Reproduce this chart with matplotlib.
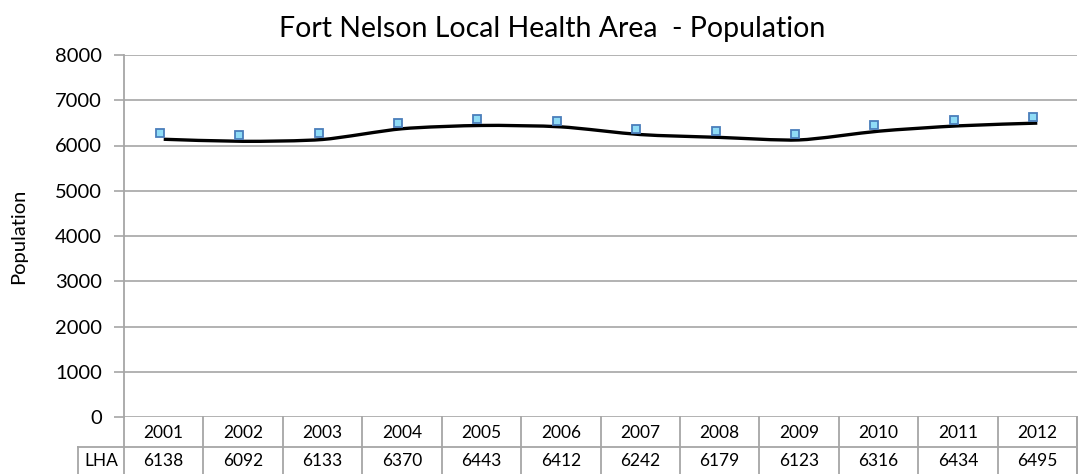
import matplotlib
matplotlib.use("Agg")
import matplotlib.pyplot as plt
import numpy as np
from matplotlib.path import Path
from matplotlib.patches import PathPatch
from matplotlib.transforms import offset_copy, blended_transform_factory
from matplotlib.lines import Line2D

years = ["2001", "2002", "2003", "2004", "2005", "2006",
         "2007", "2008", "2009", "2010", "2011", "2012"]
population = [6138, 6092, 6133, 6370, 6443, 6412,
              6242, 6179, 6123, 6316, 6434, 6495]
series_label = "LHA"
title = "Fort Nelson Local Health Area  - Population"
y_label = "Population"
y_ticks = [0, 1000, 2000, 3000, 4000, 5000, 6000, 7000, 8000]

plt.rcParams["font.family"] = ["Lato", "DejaVu Sans"]

W, H = 1086, 474
fig = plt.figure(figsize=(W / 100, H / 100), dpi=100)
left, right, top, bottom = 124, 1077, 55, 417
ax = fig.add_axes([left / W, 1 - bottom / H, (right - left) / W, (bottom - top) / H])

n = len(years)
x = np.arange(n)
ax.set_xlim(-0.5, n - 0.5)
ax.set_ylim(0, 8000)

grid_c = "#a6a6a6"
ax.set_yticks(y_ticks)
ax.set_yticklabels([str(v) for v in y_ticks], fontsize=14.5)
ax.tick_params(axis="y", length=7, width=1.2, color=grid_c, pad=9)
ax.set_xticks([])
for v in y_ticks:
    ax.axhline(v, color=grid_c, lw=1.2, zorder=1)
for s in ["top", "right", "bottom"]:
    ax.spines[s].set_visible(False)
ax.spines["left"].set_color(grid_c)
ax.spines["left"].set_linewidth(1.3)

# smoothed line through the values (Catmull-Rom as cubic Bezier segments)
pts = np.column_stack([x, population]).astype(float)
verts = [tuple(pts[0])]
codes = [Path.MOVETO]
for i in range(n - 1):
    p0 = pts[i - 1] if i > 0 else pts[i]
    p1, p2 = pts[i], pts[i + 1]
    p3 = pts[i + 2] if i + 2 < n else pts[i + 1]
    c1 = p1 + (p2 - p0) / 8.0
    c2 = p2 - (p3 - p1) / 8.0
    verts += [tuple(c1), tuple(c2), tuple(p2)]
    codes += [Path.CURVE4] * 3
ax.add_patch(PathPatch(Path(verts, codes), fill=False, edgecolor="black",
                       lw=2.4, capstyle="butt", zorder=3))

# markers drawn slightly up and to the left of the line
mk_tr = offset_copy(ax.transData, fig=fig, x=-4, y=6, units="dots")
ax.plot(x, population, ls="none", marker="s", ms=5.5, mfc="#8fdcf6",
        mec="#4a7ebb", mew=1.3, transform=mk_tr, zorder=4)

fig.text(552 / W, 1 - 29 / H, title, fontsize=20.5, ha="center", va="center")
fig.text(19 / W, 1 - 236 / H, y_label, rotation=90, fontsize=14.5,
         ha="center", va="center")

# data table below the plot
tr = blended_transform_factory(ax.transData, fig.transFigure)
def fy(py):
    return 1 - py / H
row1_top, row_mid, row2_bot = 417, 447, 476
line_kw = dict(color=grid_c, lw=1.3, clip_on=False)
for i in range(n + 1):
    xb = i - 0.5
    fig.add_artist(Line2D([xb, xb], [fy(row1_top), fy(row2_bot)], transform=tr, **line_kw))
fig.add_artist(Line2D([78 / W, right / W], [fy(row_mid), fy(row_mid)],
                      transform=fig.transFigure, **line_kw))
fig.add_artist(Line2D([78 / W, 78 / W], [fy(row_mid), fy(row2_bot)],
                      transform=fig.transFigure, **line_kw))
fig.add_artist(Line2D([right / W, right / W], [fy(row1_top), fy(row2_bot)],
                      transform=fig.transFigure, **line_kw))
for i, (yr, v) in enumerate(zip(years, population)):
    fig.text(i, fy((row1_top + row_mid) / 2 + 1), yr, transform=tr,
             ha="center", va="center", fontsize=12.5)
    fig.text(i, fy((row_mid + row2_bot) / 2 - 1), str(v), transform=tr,
             ha="center", va="center", fontsize=12.5)
fig.text((78 + left) / 2 / W, fy((row_mid + row2_bot) / 2 - 1), series_label,
         ha="center", va="center", fontsize=12.5)

fig.savefig("out.png", dpi=100)
